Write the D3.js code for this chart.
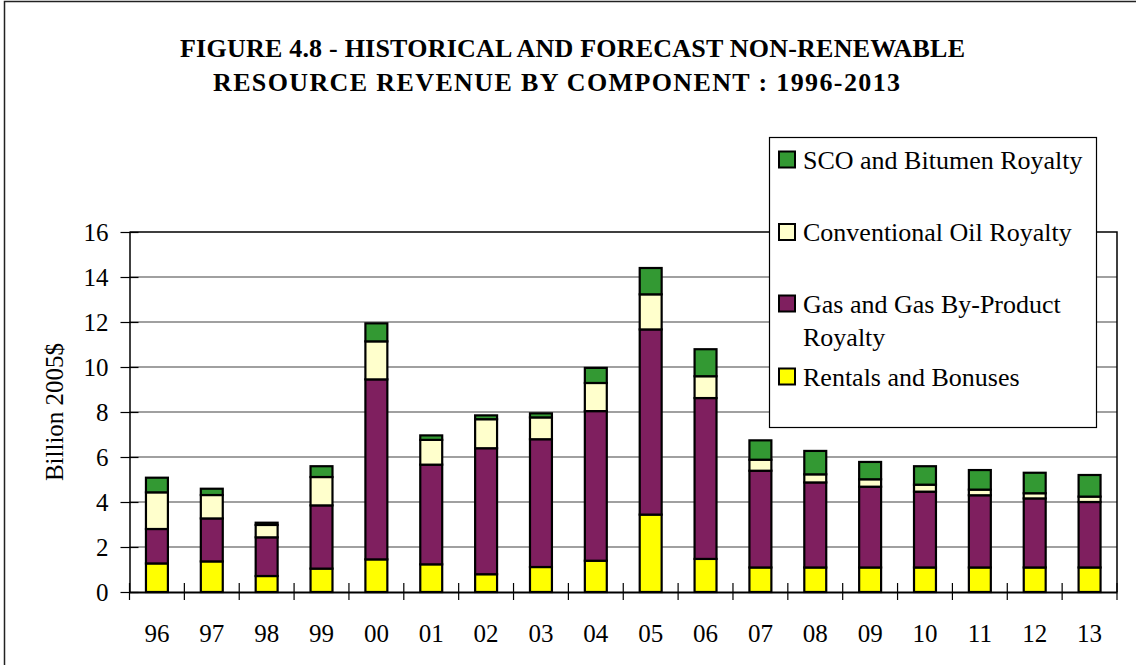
<!DOCTYPE html>
<html>
<head>
<meta charset="utf-8">
<script src="https://cdn.jsdelivr.net/npm/d3@7"></script>
<style>
  html, body { margin: 0; padding: 0; background: #fff; }
  svg { display: block; font-family: "Liberation Serif", "Times New Roman", serif; }
</style>
</head>
<body>
<svg id="chart" width="1136" height="665"></svg>
<script>
// Fiscal years (two-digit labels), billions of 2005 dollars
const years = ["96","97","98","99","00","01","02","03","04","05","06","07","08","09","10","11","12","13"];
const rentals = [1.27,1.36,0.71,1.04,1.45,1.23,0.79,1.11,1.39,3.44,1.47,1.09,1.09,1.09,1.09,1.09,1.09,1.09];
const gasRoyalty = [1.53,1.91,1.72,2.81,8.00,4.43,5.60,5.68,6.65,8.23,7.15,4.30,3.78,3.59,3.37,3.21,3.07,2.91];
const oilRoyalty = [1.63,1.04,0.55,1.26,1.69,1.10,1.29,0.97,1.25,1.56,0.97,0.49,0.36,0.33,0.31,0.25,0.23,0.24];
const scoRoyalty = [0.65,0.28,0.10,0.48,0.80,0.20,0.17,0.18,0.67,1.17,1.20,0.86,1.04,0.77,0.82,0.87,0.91,0.96];
const yTicks = [0,2,4,6,8,10,12,14,16];

const seriesKeys = ["rentals","gas","oil","sco"];
const seriesColors = { rentals: "#FFFF00", gas: "#7F1F5F", oil: "#FFFFCC", sco: "#339933" };
const legendItems = [
  { key: "sco", lines: ["SCO and Bitumen Royalty"] },
  { key: "oil", lines: ["Conventional Oil Royalty"] },
  { key: "gas", lines: ["Gas and Gas By-Product", "Royalty"] },
  { key: "rentals", lines: ["Rentals and Bonuses"] }
];

const rows = years.map((y, i) => ({
  year: y, rentals: rentals[i], gas: gasRoyalty[i], oil: oilRoyalty[i], sco: scoRoyalty[i]
}));

const svg = d3.select("#chart");
const plot = { left: 129.5, right: 1117, top: 232, bottom: 592 };

// outer frame
svg.append("rect")
  .attr("x", 4.5).attr("y", 1.5).attr("width", 1160).attr("height", 700)
  .attr("fill", "none").attr("stroke", "#222").attr("stroke-width", 1.5);

// title, two centred lines
const title = svg.append("text").attr("font-weight", "bold").attr("font-size", 26).attr("fill", "#000");
title.append("tspan").attr("x", 180).attr("y", 57)
  .attr("textLength", 785).attr("lengthAdjust", "spacing")
  .text("FIGURE 4.8 - HISTORICAL AND FORECAST NON-RENEWABLE");
title.append("tspan").attr("x", 213).attr("y", 91)
  .attr("textLength", 687).attr("lengthAdjust", "spacing")
  .text("RESOURCE REVENUE BY COMPONENT : 1996-2013");

const x = d3.scaleBand().domain(years).range([plot.left, plot.right]).paddingInner(0.6).paddingOuter(0.3);
const xCat = d3.scaleBand().domain(years).range([plot.left, plot.right]).padding(0);
const y = d3.scaleLinear().domain([0, 16]).range([plot.bottom, plot.top]);

// horizontal gridlines
svg.append("g").selectAll("line").data(yTicks.filter(t => t > 0 && t < 16)).join("line")
  .attr("x1", plot.left).attr("x2", plot.right)
  .attr("y1", d => y(d)).attr("y2", d => y(d))
  .attr("stroke", "#808080").attr("stroke-width", 1.5);

// plot frame top and right
svg.append("path")
  .attr("d", `M${plot.left},${y(16)}H${plot.right}V${plot.bottom}`)
  .attr("fill", "none").attr("stroke", "#000").attr("stroke-width", 1.5);

// stacked bars
const stacked = d3.stack().keys(seriesKeys)(rows);
svg.append("g").selectAll("g").data(stacked).join("g")
  .attr("fill", d => seriesColors[d.key])
  .selectAll("rect").data(d => d).join("rect")
  .attr("x", d => x(d.data.year))
  .attr("width", x.bandwidth())
  .attr("y", d => y(d[1]))
  .attr("height", d => y(d[0]) - y(d[1]))
  .attr("stroke", "#000").attr("stroke-width", 2.2);

// y axis
const yAxis = svg.append("g").attr("transform", `translate(${plot.left},0)`)
  .call(d3.axisLeft(y).tickValues(yTicks).tickSize(0).tickPadding(21).tickFormat(d3.format("d")));
yAxis.select(".domain").attr("stroke", "#000").attr("stroke-width", 1.5);
yAxis.selectAll("text").attr("font-size", 25).attr("font-family", "Liberation Serif").attr("fill", "#000").attr("dy", "0.34em");
yAxis.selectAll(".tick").append("line").attr("x1", -9).attr("x2", 9).attr("stroke", "#000").attr("stroke-width", 1.2);

// x axis
const xAxis = svg.append("g").attr("transform", `translate(0,${plot.bottom})`)
  .call(d3.axisBottom(xCat).tickSize(0).tickPadding(0));
xAxis.select(".domain").attr("stroke", "#000").attr("stroke-width", 2);
xAxis.selectAll("text").attr("font-size", 25).attr("font-family", "Liberation Serif").attr("fill", "#000")
  .attr("y", 49.5).attr("dy", 0);
// tick marks at category boundaries, crossing the axis
const boundaries = years.map(d => xCat(d)).concat([plot.right]);
xAxis.append("g").selectAll("line").data(boundaries).join("line")
  .attr("x1", d => d).attr("x2", d => d).attr("y1", -9).attr("y2", 8)
  .attr("stroke", "#000").attr("stroke-width", 1.2);

// y axis title
svg.append("text")
  .attr("transform", `translate(63,${(plot.top + plot.bottom) / 2}) rotate(-90)`)
  .attr("text-anchor", "middle").attr("font-size", 25).attr("fill", "#000")
  .text("Billion 2005$");

// legend
const legend = svg.append("g");
legend.append("rect").attr("x", 769.5).attr("y", 137.5).attr("width", 327).attr("height", 290)
  .attr("fill", "#fff").attr("stroke", "#000").attr("stroke-width", 1.2);
const legendRowY = [160, 232.5, 304, 377];
const li = legend.selectAll("g.item").data(legendItems).join("g").attr("class", "item")
  .attr("transform", (d, i) => `translate(0,${legendRowY[i]})`);
li.append("rect").attr("x", 779).attr("y", -8.5).attr("width", 16).attr("height", 16)
  .attr("fill", d => seriesColors[d.key]).attr("stroke", "#000").attr("stroke-width", 2);
li.append("text").attr("font-size", 26).attr("fill", "#000")
  .selectAll("tspan").data(d => d.lines).join("tspan")
  .attr("x", 803).attr("y", (d, i) => 8.5 + i * 33)
  .text(d => d);
</script>
</body>
</html>
